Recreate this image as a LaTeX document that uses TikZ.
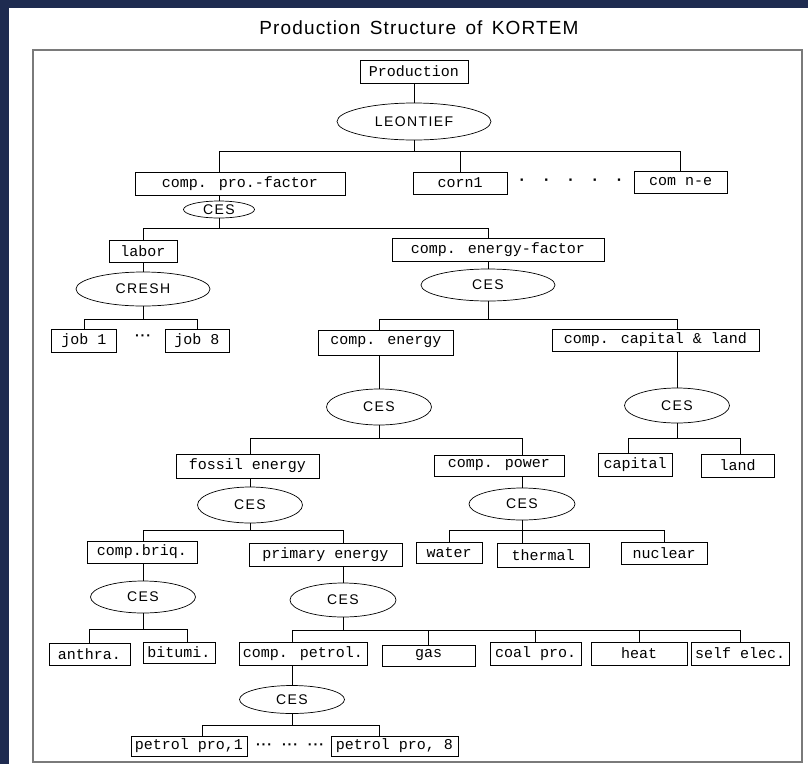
\documentclass[tikz,border=0pt]{standalone}
\usepackage{fontspec}
\setmainfont{Liberation Serif}
\newfontfamily\boxfont{Liberation Mono}
\newfontfamily\ellfont[LetterSpace=10]{Liberation Sans}
\newfontfamily\titlefont[LetterSpace=6]{Liberation Sans}
\newfontfamily\dotfont{Liberation Sans}
\usepackage{tikz}
\usetikzlibrary{shapes.geometric}
\definecolor{navy}{HTML}{1E2B50}
\definecolor{framegray}{HTML}{7A7A7A}

\begin{document}
\begin{tikzpicture}[x=1pt,y=-1pt,
        block/.style={draw, rectangle, line width=0.8pt, inner sep=0pt, minimum height=23pt, font=\boxfont\fontsize{15}{15}\selectfont},
        func/.style={draw, ellipse, line width=0.7pt, inner sep=0pt, font=\ellfont\fontsize{14}{14}\selectfont},
        dots/.style={inner sep=0pt, font=\dotfont\bfseries\fontsize{14}{14}\selectfont},
        link/.style={line width=0.8pt}
    ]
        \useasboundingbox (0,0) rectangle (808,764);
        \fill[navy] (0,0) rectangle (808,764);
        \fill[white] (9,8) rectangle (808,764);
        \draw[framegray, line width=1.6pt] (33,50) rectangle (802,762);
        \node[font=\titlefont\fontsize{19}{19}\selectfont] (title) at (419,28) {Production\hspace{3pt} Structure\hspace{3pt} of\hspace{3pt} KORTEM};

        \node[block, minimum width=108pt] (prod) at (414,71.5) {Production};
        \node[func, minimum width=154pt, minimum height=37pt] (leon) at (414,121.5) {LEONTIEF};
        \coordinate (j0) at (414,151);

        \node[block, minimum width=210pt] (pf) at (240,183.5) {comp. pro.-factor};
        \node[func, minimum width=71pt, minimum height=17pt] (pces) at (219,209.5) {CES};
        \node[block, minimum width=94pt, minimum height=22pt] (corn1) at (460,183) {corn1};
        \node[dots, font=\dotfont\bfseries\fontsize{16}{16}\selectfont] (dots1) at (571,182) {·\hspace{19pt}·\hspace{19pt}·\hspace{19pt}·\hspace{19pt}·};
        \node[block, minimum width=93pt, minimum height=22pt] (cne) at (680.5,182) {com n-e};
        \coordinate (j1) at (219,228);

        \node[block, minimum width=68pt, minimum height=22pt] (labor) at (143,251) {labor};
        \node[func, minimum width=134pt, minimum height=34pt] (cresh) at (143,289) {CRESH};
        \coordinate (j2) at (143,319);
        \node[block, minimum width=65pt] (job1) at (84,340.5) {job 1};
        \node[dots] (dots2) at (143,338) {·\hspace{1pt}·\hspace{1pt}·};
        \node[block, minimum width=64pt] (job8) at (197,340.5) {job 8};

        \node[block, minimum width=212pt] (ef) at (498,249.5) {comp. energy-factor};
        \node[func, minimum width=134pt, minimum height=32pt] (eces) at (488,285) {CES};
        \coordinate (j3) at (488,319);

        \node[block, minimum width=135pt, minimum height=25pt] (ce) at (386,342.5) {comp. energy};
        \node[func, minimum width=105pt, minimum height=36pt] (ceces) at (379,407) {CES};
        \coordinate (j4) at (379,438);
        \node[block, minimum width=207pt, minimum height=22pt] (cl) at (655.5,340) {comp. capital \& land};
        \node[func, minimum width=105pt, minimum height=35pt] (clces) at (677,405.5) {CES};
        \coordinate (j5) at (677,438);
        \node[block, minimum width=74pt] (capital) at (635,464.5) {capital};
        \node[block, minimum width=73pt] (land) at (737.5,465.5) {land};

        \node[block, minimum width=143pt, minimum height=24pt] (fe) at (247.5,466) {fossil energy};
        \node[func, minimum width=105pt, minimum height=36pt] (feces) at (250,505) {CES};
        \coordinate (j6) at (250,530);
        \node[block, minimum width=130pt, minimum height=21pt] (cp) at (499,465.5) {comp. power};
        \node[func, minimum width=106pt, minimum height=32pt] (cpces) at (522,504) {CES};
        \coordinate (j7) at (522,530);
        \node[block, minimum width=66pt, minimum height=21pt] (water) at (449,552.5) {water};
        \node[block, minimum width=92pt, minimum height=24pt] (thermal) at (543,555) {thermal};
        \node[block, minimum width=86pt, minimum height=22pt] (nuclear) at (664,553) {nuclear};

        \node[block, minimum width=110pt, minimum height=22pt] (cb) at (142,552) {comp.briq.};
        \node[func, minimum width=105pt, minimum height=32pt] (cbces) at (143,597) {CES};
        \coordinate (j8) at (143,629);
        \node[block, minimum width=81pt, minimum height=22pt] (anthra) at (89.5,654) {anthra.};
        \node[block, minimum width=72pt, minimum height=21pt] (bitumi) at (179,652.5) {bitumi.};

        \node[block, minimum width=153pt] (pe) at (325.5,554.5) {primary energy};
        \node[func, minimum width=106pt, minimum height=34pt] (peces) at (343,600) {CES};
        \coordinate (j9) at (343,630);
        \node[block, minimum width=128pt] (cpet) at (303,653.5) {comp. petrol.};
        \node[block, minimum width=93pt, minimum height=21pt] (gas) at (428.5,655.5) {gas};
        \node[block, minimum width=91pt] (coal) at (535.5,653.5) {coal pro.};
        \node[block, minimum width=96pt] (heat) at (639,653.5) {heat};
        \node[block, minimum width=98pt] (selfe) at (740,653.5) {self elec.};

        \node[func, minimum width=105pt, minimum height=28pt] (ppces) at (292,699.5) {CES};
        \coordinate (j10) at (292,725);
        \node[block, minimum width=116pt, minimum height=20pt] (pp1) at (189,746) {petrol pro,1};
        \node[dots] (dots3) at (290,747) {·\hspace{1pt}·\hspace{1pt}·\hspace{10pt}·\hspace{1pt}·\hspace{1pt}·\hspace{10pt}·\hspace{1pt}·\hspace{1pt}·};
        \node[block, minimum width=127pt, minimum height=20pt] (pp8) at (394.5,746) {petrol pro, 8};

        \begin{scope}[link]
            \draw (prod) -- (leon);
            \draw (leon) -- (j0);
            \draw (j0) -| (pf.north -| pces);
            \draw (j0) -| (corn1.north);
            \draw (j0) -| (cne.north);
            \draw (pf.south -| pces) -- (pces);
            \draw (pces) -- (j1);
            \draw (j1) -| (labor.north);
            \draw (j1) -| (ef.north -| eces);
            \draw (labor) -- (cresh);
            \draw (cresh) -- (j2);
            \draw (j2) -| (job1.north);
            \draw (j2) -| (job8.north);
            \draw (ef.south -| eces) -- (eces);
            \draw (eces) -- (j3);
            \draw (j3) -| (ce.north -| ceces);
            \draw (j3) -| (cl.north -| clces);
            \draw (ce.south -| ceces) -- (ceces);
            \draw (cl.south -| clces) -- (clces);
            \draw (clces) -- (j5);
            \draw (j5) -| ([xshift=-7pt]capital.north);
            \draw (j5) -| ([xshift=2.5pt]land.north);
            \draw (ceces) -- (j4);
            \draw (j4) -| (fe.north -| feces);
            \draw (j4) -| (cp.north -| cpces);
            \draw (fe.south -| feces) -- (feces);
            \draw (cp.south -| cpces) -- (cpces);
            \draw (cpces) -- (j7);
            \draw (j7) -| (water.north);
            \draw (j7) -- (thermal.north -| j7);
            \draw (j7) -| (nuclear.north);
            \draw (feces) -- (j6);
            \draw (j6) -| (cb.north -| cbces);
            \draw (j6) -| (pe.north -| peces);
            \draw (cb.south -| cbces) -- (cbces);
            \draw (cbces) -- (j8);
            \draw (j8) -| (anthra.north);
            \draw (j8) -| ([xshift=8pt]bitumi.north);
            \draw (pe.south -| peces) -- (peces);
            \draw (peces) -- (j9);
            \draw (j9) -| (cpet.north -| ppces);
            \draw (j9) -| (gas.north);
            \draw (j9) -| (coal.north);
            \draw (j9) -| (heat.north);
            \draw (j9) -| (selfe.north);
            \draw (cpet.south -| ppces) -- (ppces);
            \draw (ppces) -- (j10);
            \draw (j10) -| ([xshift=13pt]pp1.north);
            \draw (j10) -| ([xshift=-15.5pt]pp8.north);
        \end{scope}
    \end{tikzpicture}
\end{document}
